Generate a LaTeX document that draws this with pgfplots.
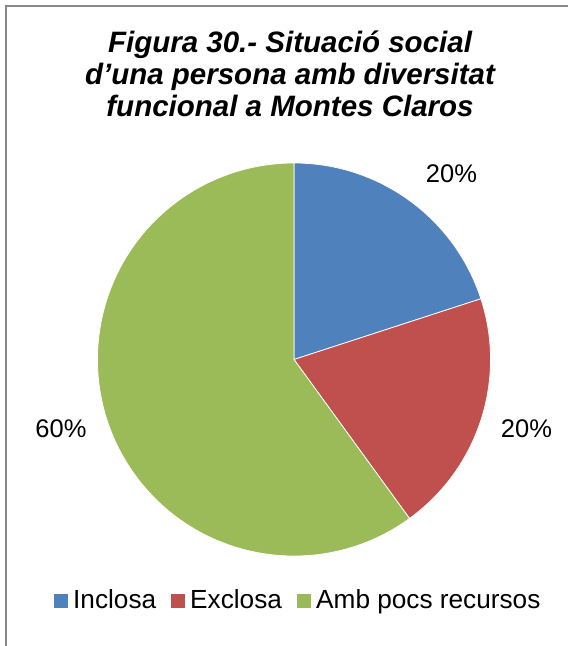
\documentclass[border=0pt]{standalone}
\usepackage{pgfplots}
\pgfplotsset{compat=1.18}
\usepackage{pgfplotstable}
\usepackage{fontspec}
\setmainfont{Liberation Sans}
\definecolor{slice0}{HTML}{4F81BD}
\definecolor{slice1}{HTML}{C0504D}
\definecolor{slice2}{HTML}{9BBB59}
\definecolor{framegray}{HTML}{888888}
\pgfplotstableread{
label value lx ly sqx
Inclosa 20 451.5 463 54
Exclosa 20 526.5 208 171
{Amb pocs recursos} 60 61 208 297
}\piedata
\newcommand\lblfont{\fontsize{25.5bp}{30bp}\selectfont}
\newcommand\legfont{\fontsize{26.2bp}{30bp}\selectfont}
\newcommand\ttlfont{\fontsize{29.5bp}{32bp}\selectfont\bfseries\itshape}
\begin{document}
\begin{tikzpicture}
\begin{axis}[
  at={(0,0)}, anchor=south west,
  scale only axis, width=568bp, height=646bp,
  xmin=0, xmax=568, ymin=0, ymax=646,
  hide axis, clip=false,
]
% frame
\draw[framegray, line width=2bp] (axis cs:6,0) -- (axis cs:6,640) -- (axis cs:568,640);
% pie slices, data labels and legend entries
\pgfmathsetmacro\cum{90}
\pgfplotsforeachungrouped \i in {0,1,2} {
  \pgfplotstablegetelem{\i}{value}\of\piedata
  \let\val\pgfplotsretval
  \pgfmathsetmacro\ang{\val*3.6}
  \pgfmathsetmacro\endang{\cum-\ang}
  \pgfplotstablegetelem{\i}{lx}\of\piedata
  \let\lx\pgfplotsretval
  \pgfplotstablegetelem{\i}{ly}\of\piedata
  \let\ly\pgfplotsretval
  \pgfplotstablegetelem{\i}{sqx}\of\piedata
  \let\sqx\pgfplotsretval
  \pgfmathsetmacro\sqxe{\sqx+14}
  \pgfmathsetmacro\txx{\sqx+19}
  \pgfplotstablegetelem{\i}{label}\of\piedata
  \let\lab\pgfplotsretval
  \edef\temp{\noexpand\fill[fill=slice\i, draw=white, line width=0.75bp]
    (axis cs:294,286.5) -- ++(\cum:196.5bp) arc[start angle=\cum, end angle=\endang, radius=196.5bp] -- cycle;
    \noexpand\node[anchor=base, inner sep=0pt, font=\noexpand\lblfont] at (axis cs:\lx,\ly) {\val\noexpand\%};
    \noexpand\fill[slice\i] (axis cs:\sqx,38) rectangle (axis cs:\sqxe,52);
    \noexpand\node[anchor=base west, inner sep=0pt, font=\noexpand\legfont] at (axis cs:\txx,37) {\unexpanded\expandafter{\lab}};}
  \temp
  \global\let\cum\endang
}
% title
\node[anchor=base, inner sep=0pt, font=\ttlfont] at (axis cs:290,593) {Figura 30.- Situació social};
\node[anchor=base, inner sep=0pt, font=\ttlfont] at (axis cs:290,561) {d’una persona amb diversitat};
\node[anchor=base, inner sep=0pt, font=\ttlfont] at (axis cs:290,529) {funcional a Montes Claros};
\end{axis}
\pgfresetboundingbox
\useasboundingbox (0,0) rectangle (568bp,646bp);
\end{tikzpicture}
\end{document}
